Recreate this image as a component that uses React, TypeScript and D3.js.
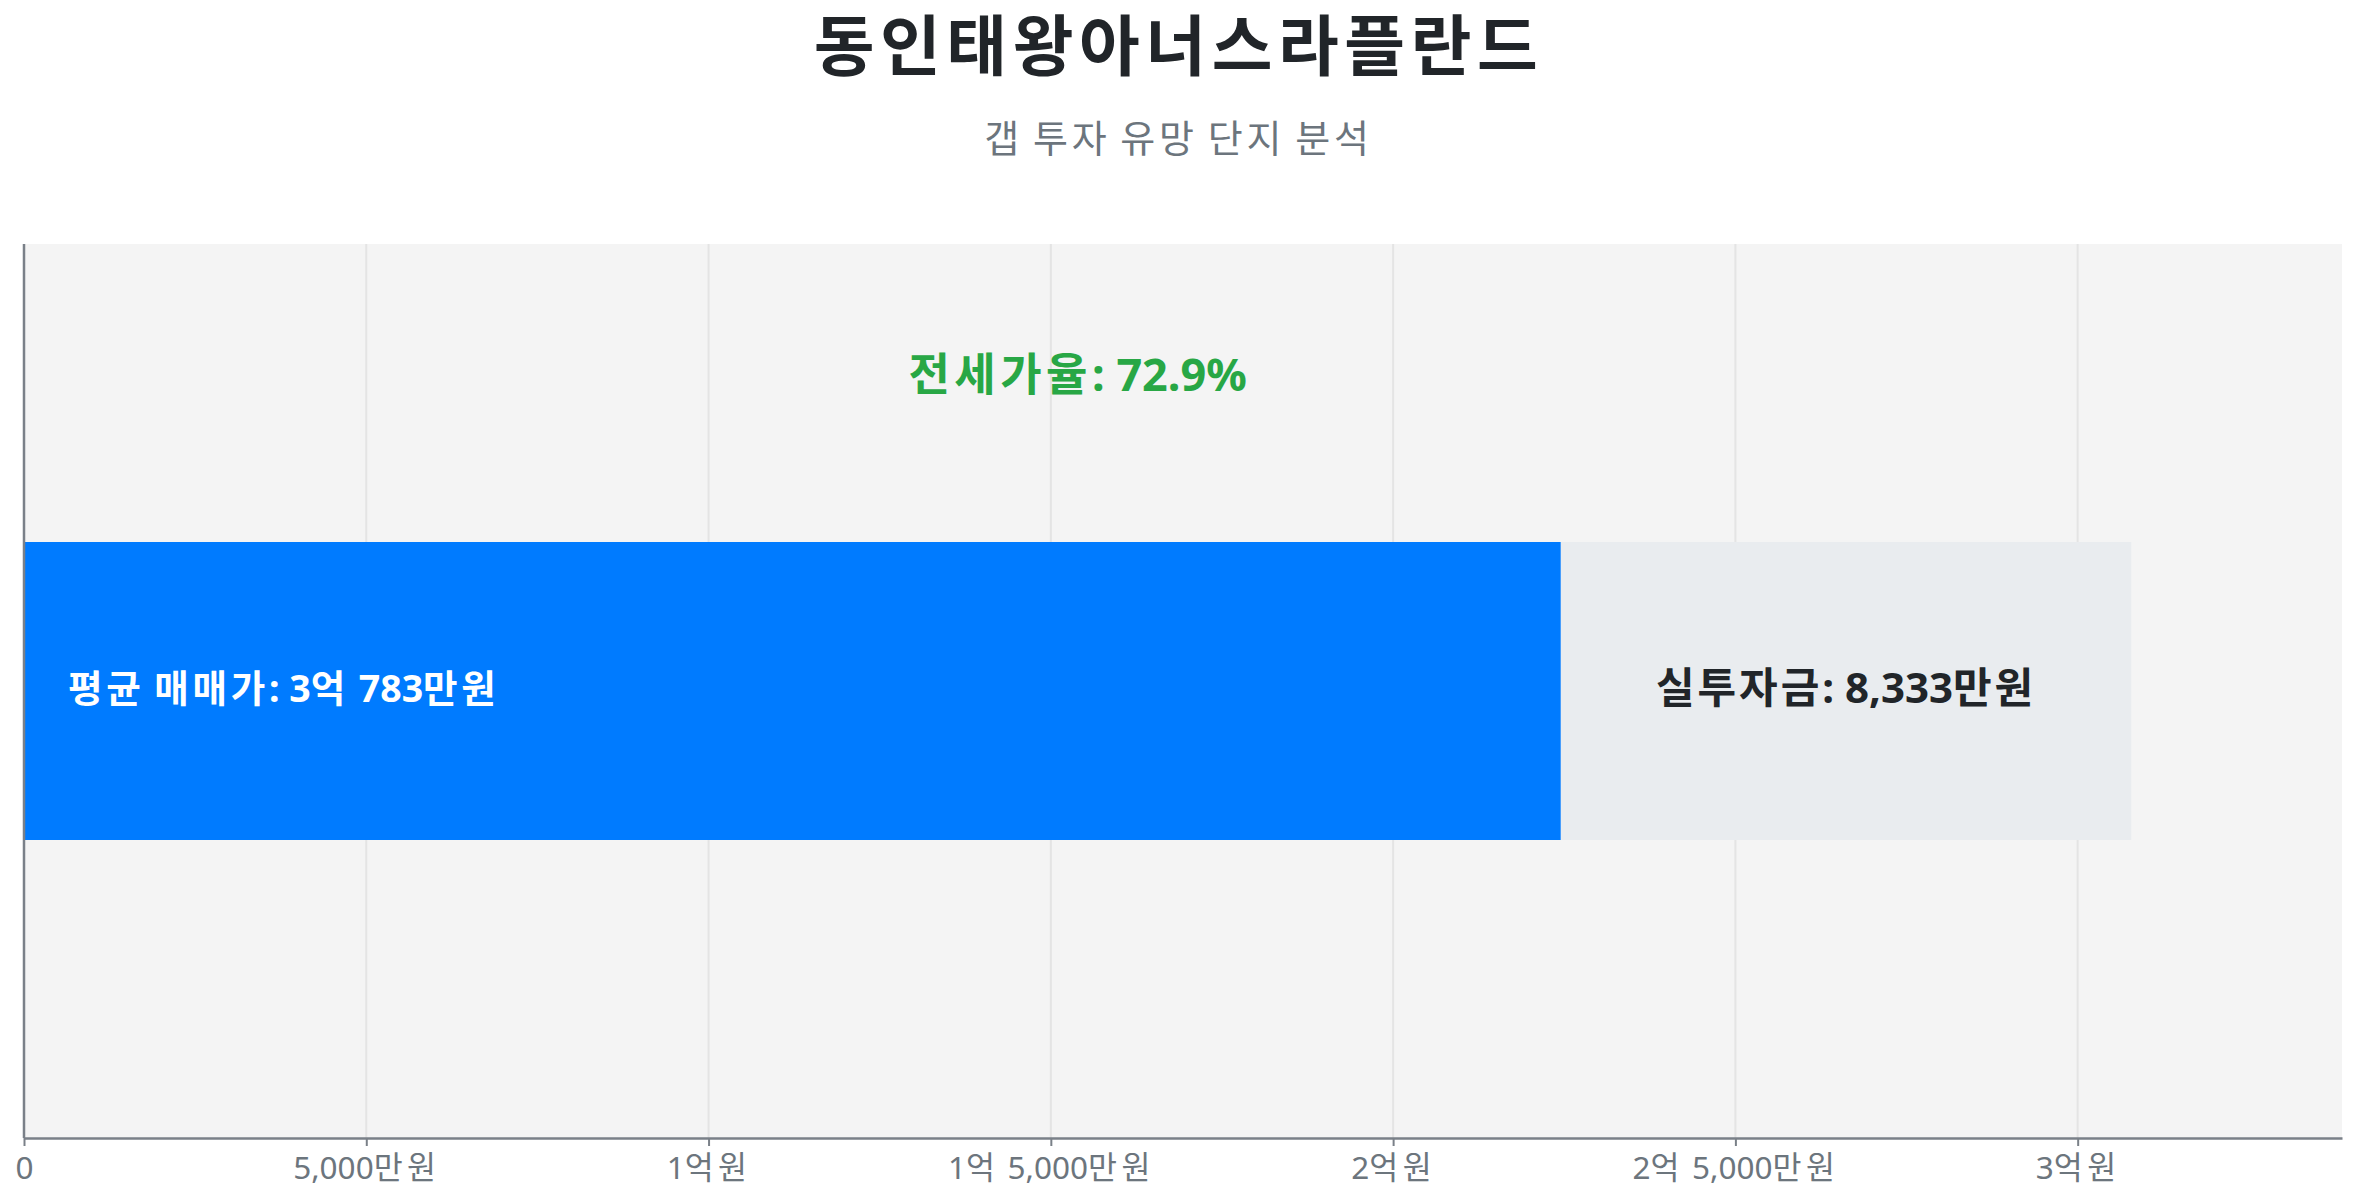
import React, { useEffect, useRef } from 'react';
import * as d3 from "d3";

// 단위: 만원
const categories = ["동인태왕아너스라플란드"];
const salePrice = [30783];
const jeonsePrice = [22450];
const gapInvest = [8333];
const jeonseRatio = [72.9];

const subtitle = "갭 투자 유망 단지 분석";
const tickValues = [0, 5000, 10000, 15000, 20000, 25000, 30000];
const tickLabels = ["0", "5,000만원", "1억원", "1억 5,000만원", "2억원", "2억 5,000만원", "3억원"];

const FONT = "'Noto Sans', 'Noto Sans CJK KR', sans-serif";

// 한글 글자 폭을 조금 넓혀서 찍기 (tspan 단위)
const writeRuns = (sel: any, str: string, spacing: string) => {
    sel.text(null);
    const runs = str.match(/[\uAC00-\uD7A3]+|[^\uAC00-\uD7A3]+/g) || [];
    runs.forEach((r) => {
        const t = sel.append("tspan").text(r);
        if (/[\uAC00-\uD7A3]/.test(r)) t.attr("letter-spacing", spacing);
    });
};

export default function App() {
    const svgRef = useRef(null);

    const drawChart = () => {
        const W = 2357;
        const H = 1200;
        const margin = { top: 244, right: 15, bottom: 62, left: 24 };

        d3.select(svgRef.current).selectAll("*").remove();
        const svg = d3.select(svgRef.current)
            .attr("width", W)
            .attr("height", H)
            .style("font-family", FONT);

        const x = d3.scaleLinear()
            .domain([0, d3.max(salePrice)! * 1.1])
            .range([margin.left, W - margin.right]);

        const y = d3.scaleBand()
            .domain(categories)
            .range([margin.top, H - margin.bottom])
            .padding(0.5);

        // titles
        const title = svg.append("text")
            .attr("x", W / 2)
            .attr("y", 70)
            .attr("text-anchor", "middle")
            .style("font-size", "66px")
            .style("font-weight", "700")
            .style("fill", "#212529");
        writeRuns(title, categories[0], "0.085em");

        const sub = svg.append("text")
            .attr("x", W / 2)
            .attr("y", 152)
            .attr("text-anchor", "middle")
            .style("font-size", "38px")
            .style("fill", "#6c757d");
        writeRuns(sub, subtitle, "0.1em");

        // plot background
        svg.append("rect")
            .attr("x", margin.left)
            .attr("y", margin.top)
            .attr("width", W - margin.left - margin.right)
            .attr("height", H - margin.top - margin.bottom)
            .attr("fill", "#f4f4f4");

        // grid
        svg.append("g")
            .selectAll("line")
            .data(tickValues.slice(1))
            .enter()
            .append("line")
            .attr("x1", (d) => x(d))
            .attr("x2", (d) => x(d))
            .attr("y1", margin.top)
            .attr("y2", H - margin.bottom)
            .attr("stroke", "#e4e4e4")
            .attr("stroke-width", 2);

        const rows = categories.map((c, i) => ({
            cat: c,
            sale: salePrice[i],
            jeonse: jeonsePrice[i],
            gap: gapInvest[i],
            ratio: jeonseRatio[i],
        }));

        // 전세가 (blue)
        svg.selectAll("rect.jeonse")
            .data(rows)
            .enter()
            .append("rect")
            .attr("class", "jeonse")
            .attr("x", x(0))
            .attr("y", (d) => y(d.cat) || 0)
            .attr("width", (d) => x(d.jeonse) - x(0))
            .attr("height", y.bandwidth())
            .attr("fill", "#007bff");

        // 실투자금 (gray)
        svg.selectAll("rect.gap")
            .data(rows)
            .enter()
            .append("rect")
            .attr("class", "gap")
            .attr("x", (d) => x(d.jeonse))
            .attr("y", (d) => y(d.cat) || 0)
            .attr("width", (d) => x(d.jeonse + d.gap) - x(d.jeonse))
            .attr("height", y.bandwidth())
            .attr("fill", "#e9ecef");

        const fmt = (v: number) => {
            const eok = Math.floor(v / 10000);
            const man = v % 10000;
            return `${eok > 0 ? eok + "억 " : ""}${d3.format(",")(man)}만원`;
        };

        rows.forEach((d) => {
            const cy = (y(d.cat) || 0) + y.bandwidth() / 2;
            const saleLabel = svg.append("text")
                .attr("x", x(0) + 44)
                .attr("y", cy + 11)
                .style("font-size", "37.5px")
                .style("font-weight", "700")
                .style("fill", "#ffffff");
            writeRuns(saleLabel, `평균 매매가: ${fmt(d.sale)}`, "0.1em");

            const gapLabel = svg.append("text")
                .attr("x", (x(d.jeonse) + x(d.jeonse + d.gap)) / 2)
                .attr("y", cy + 12)
                .attr("text-anchor", "middle")
                .style("font-size", "42px")
                .style("font-weight", "700")
                .style("fill", "#212529");
            writeRuns(gapLabel, `실투자금: ${fmt(d.gap)}`, "0.07em");

            const ratioLabel = svg.append("text")
                .attr("x", x(d.sale / 2))
                .attr("y", (y(d.cat) || 0) - 151)
                .attr("text-anchor", "middle")
                .style("font-size", "45px")
                .style("font-weight", "700")
                .style("fill", "#28a745");
            writeRuns(ratioLabel, `전세가율: ${d.ratio}%`, "0.1em");
        });

        // axes
        const xAxis = svg.append("g")
            .attr("transform", `translate(0,${H - margin.bottom})`)
            .call(d3.axisBottom(x)
                .tickValues(tickValues)
                .tickFormat((_, i) => tickLabels[i])
                .tickSize(8)
                .tickSizeOuter(0));
        xAxis.select("path").attr("stroke", "#7a8088").attr("stroke-width", 2.5);
        xAxis.selectAll("line").attr("stroke", "#7a8088").attr("stroke-width", 2);
        xAxis.selectAll("text")
            .attr("dy", "0")
            .attr("y", 41)
            .style("font-family", FONT)
            .style("font-size", "31.5px")
            .style("fill", "#6c757d")
            .each(function (_, i) {
                writeRuns(d3.select(this), tickLabels[i], "0.14em");
            });

        svg.append("line")
            .attr("x1", margin.left)
            .attr("x2", margin.left)
            .attr("y1", margin.top)
            .attr("y2", H - margin.bottom)
            .attr("stroke", "#7a8088")
            .attr("stroke-width", 2.5);
    };

    useEffect(() => {
        drawChart();
    }, []);

    return (
        <div style={{ position: "absolute", left: 0, top: 0, background: "#ffffff" }}>
            <svg ref={svgRef} style={{ display: "block" }} />
        </div>
    );
}
